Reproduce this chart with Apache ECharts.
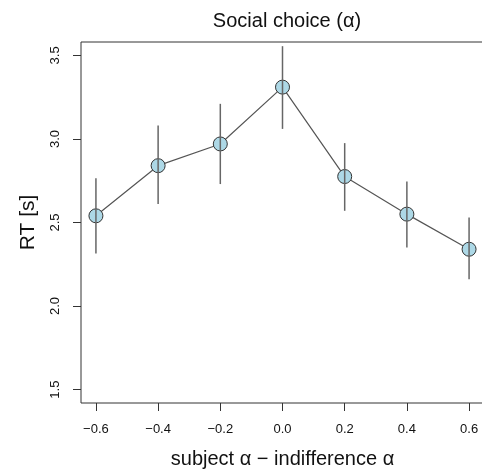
<!DOCTYPE html>
<html>
<head>
<meta charset="utf-8">
<script src="https://cdn.jsdelivr.net/npm/echarts@6/dist/echarts.min.js"></script>
<style>
  html, body { margin: 0; padding: 0; background: #fff; }
  #chart { width: 482px; height: 469px; }
</style>
</head>
<body>
<div id="chart"></div>
<script>
// values
const alphaDiff = [-0.6, -0.4, -0.2, 0.0, 0.2, 0.4, 0.6]
const meanRT = [2.54, 2.84, 2.97, 3.31, 2.775, 2.55, 2.34]
const lowerRT = [2.315, 2.61, 2.73, 3.06, 2.57, 2.35, 2.16]
const upperRT = [2.765, 3.08, 3.21, 3.555, 2.975, 2.745, 2.53]
const xTicks = [-0.6, -0.4, -0.2, 0.0, 0.2, 0.4, 0.6]
const yTicks = [1.5, 2.0, 2.5, 3.0, 3.5]

const points = alphaDiff.map((x, i) => [x, meanRT[i]])
const bars = alphaDiff.map((x, i) => [x, lowerRT[i], upperRT[i]])

const fmt = v => v.toFixed(1).replace('-', '\u2212')
const font = 'Liberation Sans, Arial, Helvetica, sans-serif'

const chart = echarts.init(document.getElementById('chart'), null, { renderer: 'canvas' })
chart.setOption({
    animation: false,
    backgroundColor: '#fff',
    title: {
        text: 'Social choice (\u03b1)',
        left: 282, top: 6,
        textAlign: 'center',
        textStyle: { fontFamily: font, fontSize: 20, fontWeight: 'normal', color: '#111' }
    },
    grid: {
        left: 81, top: 42, width: 403, height: 361,
        show: true, borderColor: '#333', borderWidth: 1,
        containLabel: false, outerBoundsMode: 'none'
    },
    xAxis: {
        type: 'value',
        min: -0.648, max: 0.648,
        name: 'subject \u03b1 \u2212 indifference \u03b1',
        nameLocation: 'middle',
        nameGap: 46,
        nameTextStyle: { fontFamily: font, fontSize: 20, color: '#111' },
        axisLine: { show: false, onZero: false },
        splitLine: { show: false },
        axisTick: { show: true, length: 8, lineStyle: { color: '#333' }, customValues: xTicks },
        axisLabel: { customValues: xTicks, formatter: fmt, margin: 20, fontFamily: font, fontSize: 13, color: '#111' }
    },
    yAxis: {
        type: 'value',
        min: 1.42, max: 3.58,
        name: 'RT [s]',
        nameLocation: 'middle',
        nameGap: 42,
        nameTextStyle: { fontFamily: font, fontSize: 21, color: '#111' },
        axisLine: { show: false, onZero: false },
        splitLine: { show: false },
        axisTick: { show: true, length: 8, lineStyle: { color: '#333' }, customValues: yTicks },
        axisLabel: { customValues: yTicks, formatter: v => v.toFixed(1), rotate: 90, margin: 19, fontFamily: font, fontSize: 13, color: '#111' }
    },
    series: [
        {
            type: 'line',
            data: points,
            symbol: 'circle',
            symbolSize: 14,
            lineStyle: { color: '#555', width: 1.2 },
            itemStyle: { color: '#ADD8E6', borderColor: '#333', borderWidth: 1 },
            z: 2
        },
        {
            type: 'custom',
            data: bars,
            z: 3,
            renderItem: (params, api) => {
                const lo = api.coord([api.value(0), api.value(1)])
                const hi = api.coord([api.value(0), api.value(2)])
                return {
                    type: 'line',
                    shape: { x1: lo[0], y1: lo[1], x2: hi[0], y2: hi[1] },
                    style: { stroke: '#666', lineWidth: 1.5 }
                }
            }
        }
    ]
})
</script>
</body>
</html>
